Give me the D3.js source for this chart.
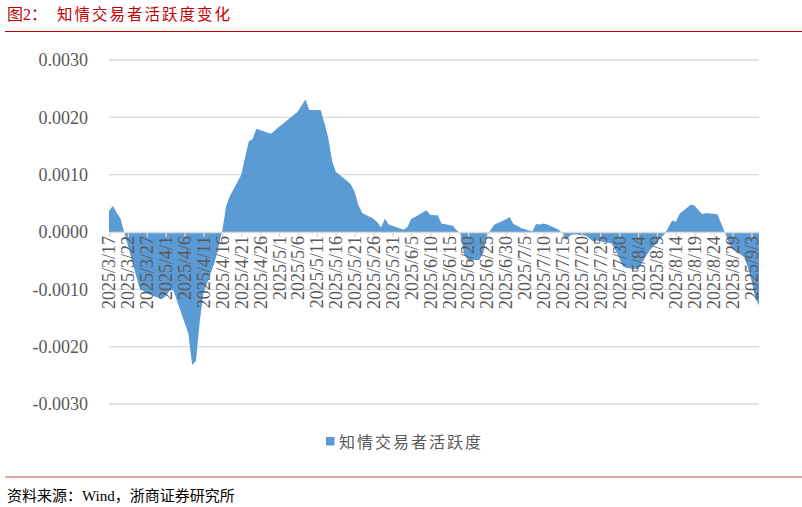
<!DOCTYPE html>
<html><head><meta charset="utf-8">
<script src="https://cdn.jsdelivr.net/npm/d3@7"></script>
<style>body{margin:0;background:#fff}svg{display:block}</style>
</head><body>
<svg id="chart" width="802" height="507"></svg>
<script>
const figLabel = "图2：";
const titleText = "知情交易者活跃度变化";
const seriesName = "知情交易者活跃度";
const sourceText = "资料来源：Wind，浙商证券研究所";

const dates = [
"2025/3/17","2025/3/18","2025/3/19","2025/3/20","2025/3/21",
"2025/3/24","2025/3/25","2025/3/26","2025/3/27","2025/3/28",
"2025/3/31","2025/4/1","2025/4/2","2025/4/3",
"2025/4/7","2025/4/8","2025/4/9","2025/4/10","2025/4/11",
"2025/4/14","2025/4/15","2025/4/16","2025/4/17","2025/4/18",
"2025/4/21","2025/4/22","2025/4/23","2025/4/24","2025/4/25",
"2025/4/28","2025/4/29","2025/4/30",
"2025/5/6","2025/5/7","2025/5/8","2025/5/9",
"2025/5/12","2025/5/13","2025/5/14","2025/5/15","2025/5/16",
"2025/5/19","2025/5/20","2025/5/21","2025/5/22","2025/5/23",
"2025/5/26","2025/5/27","2025/5/28","2025/5/29","2025/5/30",
"2025/6/3","2025/6/4","2025/6/5","2025/6/6",
"2025/6/9","2025/6/10","2025/6/11","2025/6/12","2025/6/13",
"2025/6/16","2025/6/17","2025/6/18","2025/6/19","2025/6/20",
"2025/6/23","2025/6/24","2025/6/25","2025/6/26","2025/6/27",
"2025/6/30","2025/7/1","2025/7/2","2025/7/3","2025/7/4",
"2025/7/7","2025/7/8","2025/7/9","2025/7/10","2025/7/11",
"2025/7/14","2025/7/15","2025/7/16","2025/7/17","2025/7/18",
"2025/7/21","2025/7/22","2025/7/23","2025/7/24","2025/7/25",
"2025/7/28","2025/7/29","2025/7/30","2025/7/31","2025/8/1",
"2025/8/4","2025/8/5","2025/8/6","2025/8/7","2025/8/8",
"2025/8/11","2025/8/12","2025/8/13","2025/8/14","2025/8/15",
"2025/8/18","2025/8/19","2025/8/20","2025/8/21","2025/8/22",
"2025/8/25","2025/8/26","2025/8/27","2025/8/28","2025/8/29",
"2025/9/1","2025/9/2","2025/9/3","2025/9/4","2025/9/5"
];

const values = [
0.00036,0.00046,0.00034,0.00024,0.00000,
-0.00072,-0.00096,-0.00103,-0.00107,-0.00110,
-0.00117,-0.00112,-0.00103,-0.00101,
-0.00177,-0.00232,-0.00225,-0.00157,-0.00107,
-0.00052,-0.00025,0.00003,0.00046,0.00063,
0.00100,0.00130,0.00158,0.00162,0.00180,
0.00173,0.00172,0.00178,
0.00210,0.00221,0.00231,0.00213,
0.00213,0.00190,0.00165,0.00125,0.00105,
0.00089,0.00083,0.00070,0.00047,0.00033,
0.00023,0.00017,0.00008,0.00023,0.00013,
0.00004,0.00009,0.00023,0.00026,
0.00038,0.00030,0.00029,0.00029,0.00015,
0.00011,0.00003,-0.00003,-0.00040,-0.00049,
-0.00049,-0.00037,-0.00008,0.00004,0.00013,
0.00022,0.00026,0.00014,0.00011,0.00007,
0.00001,0.00014,0.00013,0.00015,0.00013,
0.00004,-0.00002,-0.00014,-0.00006,-0.00004,
-0.00006,-0.00010,-0.00016,-0.00015,-0.00016,
-0.00020,-0.00032,-0.00045,-0.00060,-0.00063,
-0.00065,-0.00055,-0.00043,-0.00033,-0.00025,
-0.00004,0.00008,0.00020,0.00018,0.00032,
0.00048,0.00046,0.00038,0.00031,0.00033,
0.00031,0.00015,-0.00001,-0.00018,-0.00030,
-0.00043,-0.00060,-0.00085,-0.00115,-0.00128
];

const yTicks = [0.003,0.002,0.001,0,-0.001,-0.002,-0.003];
const xTickStepDays = 5;

const parse = d3.utcParse("%Y/%m/%d");
const fmt = d3.utcFormat("%Y/%-m/%-d");
const data = dates.map((d,i)=>({date:parse(d), value:values[i]}));

const svg = d3.select("#chart");
const W = 802, H = 507;
const serif = "'Liberation Serif','Times New Roman',serif";
const cjk = "'Liberation Serif','Noto Sans CJK SC',serif";

const x = d3.scaleUtc().domain(d3.extent(data, d=>d.date)).range([109, 759]);
const y = d3.scaleLinear().domain([-0.003, 0.003]).range([404, 60]);

// header
svg.append("text").attr("x",7).attr("y",20).attr("fill","#c00000")
  .attr("font-family",cjk).attr("font-size",16).text(figLabel);
svg.append("text").attr("x",57).attr("y",20).attr("fill","#c00000")
  .attr("font-family","'Noto Sans CJK SC',sans-serif").attr("font-size",15.5)
  .attr("letter-spacing",2).text(titleText);
svg.append("line").attr("x1",5).attr("x2",W).attr("y1",31.5).attr("y2",31.5)
  .attr("stroke","#c00000").attr("stroke-width",1);

// gridlines
svg.append("g").selectAll("line").data(yTicks.filter(t=>t!==0)).join("line")
  .attr("x1",109).attr("x2",759).attr("y1",d=>y(d)).attr("y2",d=>y(d))
  .attr("stroke","#d9d9d9").attr("stroke-width",1.3);

// area
const area = d3.area().x(d=>x(d.date)).y0(y(0)).y1(d=>y(d.value));
svg.append("path").datum(data).attr("d",area).attr("fill","#5b9bd5");

// x axis
const tickDates = d3.utcDay.range(x.domain()[0], d3.utcDay.offset(x.domain()[1],1), xTickStepDays);
const xAxis = d3.axisBottom(x).tickValues(tickDates).tickFormat(fmt).tickSize(5).tickSizeOuter(0);
const gx = svg.append("g").attr("transform",`translate(0,${y(0)})`).call(xAxis);
gx.select(".domain").attr("stroke","#d9d9d9").attr("stroke-width",1.5);
gx.selectAll(".tick line").attr("stroke","#d9d9d9").attr("stroke-width",1.3);
gx.selectAll(".tick text")
  .attr("transform","rotate(-90)").attr("text-anchor","end")
  .attr("x",-4).attr("y",0).attr("dy","0.33em")
  .attr("fill","#595959").attr("font-family",serif).attr("font-size",18);

// y axis
const yAxis = d3.axisLeft(y).tickValues(yTicks).tickFormat(d=>d.toFixed(4)).tickSize(0).tickPadding(21);
const gy = svg.append("g").attr("transform","translate(109,0)").call(yAxis);
gy.select(".domain").remove();
gy.selectAll(".tick text").attr("fill","#595959").attr("font-family",serif).attr("font-size",18);

// legend
svg.append("rect").attr("x",326).attr("y",437).attr("width",8.5).attr("height",8.5).attr("fill","#5b9bd5");
svg.append("text").attr("x",339).attr("y",447.5).attr("fill","#595959")
  .attr("font-family","'Noto Sans CJK SC',sans-serif").attr("font-size",16)
  .attr("letter-spacing",2).text(seriesName);

// footer
svg.append("line").attr("x1",5).attr("x2",W).attr("y1",477).attr("y2",477)
  .attr("stroke","#d84b4b").attr("stroke-width",1.2);
svg.append("text").attr("x",7).attr("y",501).attr("fill","#000")
  .attr("font-family",cjk).attr("font-size",15).text(sourceText);
</script>
</body></html>
